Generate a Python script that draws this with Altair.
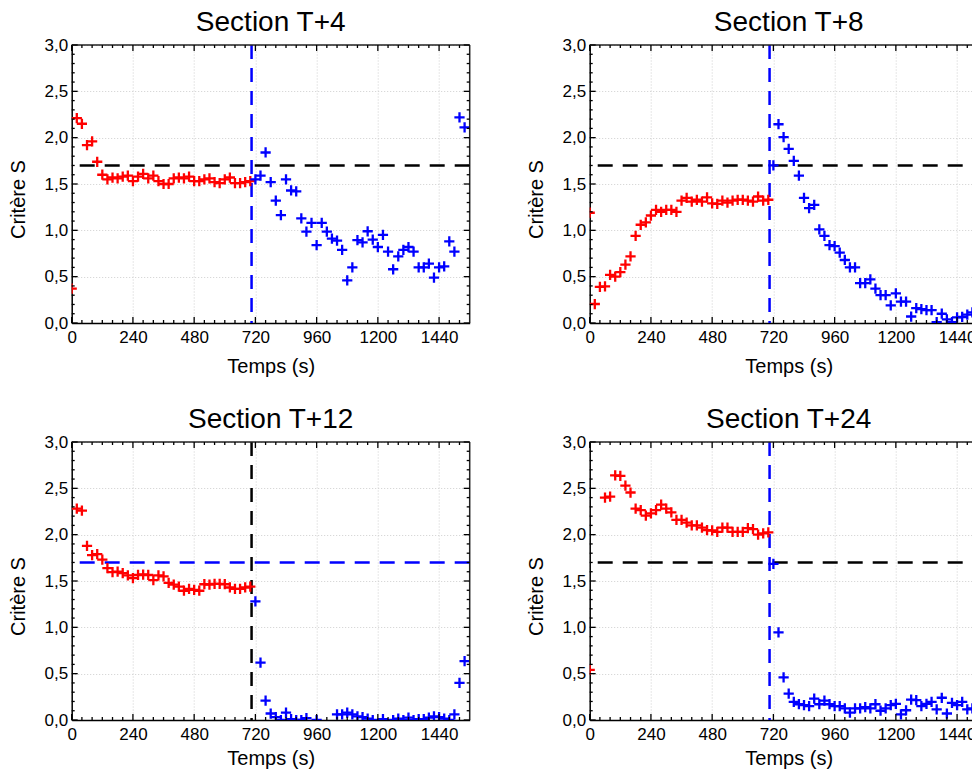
import altair as alt
import pandas as pd

FONT = "Liberation Sans"
W, H = 398, 278          # plot size of every panel
XMAX = 1560
YMAX = 3.0

# ---------------- data ----------------
titles = ["Section T+4", "Section T+8", "Section T+12", "Section T+24"]

times_red = list(range(0, 720, 20))      # 0 .. 700 s
times_blue = list(range(720, 1560, 20))  # 720 .. 1540 s

t4_red = [0.37, 2.21, 2.15, 1.92, 1.96, 1.74, 1.60, 1.55, 1.57, 1.56, 1.58, 1.59,
          1.53, 1.58, 1.61, 1.56, 1.59, 1.53, 1.50, 1.50, 1.56, 1.57, 1.56, 1.58,
          1.53, 1.53, 1.55, 1.56, 1.52, 1.51, 1.55, 1.57, 1.51, 1.51, 1.52, 1.53]
t4_blue = [1.55, 1.59, 1.84, 1.52, 1.32, 1.165, 1.55, 1.43, 1.42, 1.13, 0.985, 1.08,
           0.84, 1.08, 0.985, 0.91, 0.89, 0.79, 0.46, 0.60, 0.895, 0.87, 0.99, 0.90,
           0.82, 0.95, 0.77, 0.58, 0.72, 0.79, 0.82, 0.77, 0.60, 0.60, 0.64, 0.49,
           0.60, 0.61, 0.88, 0.77, 2.22, 2.11]

t8_red = [1.19, 0.205, 0.39, 0.395, 0.52, 0.50, 0.55, 0.63, 0.72, 0.94, 1.06, 1.085,
          1.16, 1.22, 1.20, 1.22, 1.22, 1.20, 1.32, 1.35, 1.31, 1.33, 1.31, 1.355,
          1.29, 1.285, 1.32, 1.30, 1.32, 1.33, 1.33, 1.32, 1.31, 1.365, 1.32, 1.33]
t8_blue = [1.70, 2.145, 2.005, 1.88, 1.75, 1.59, 1.35, 1.24, 1.275, 1.01, 0.94, 0.84,
           0.83, 0.76, 0.68, 0.60, 0.60, 0.43, 0.43, 0.47, 0.37, 0.30, 0.30, 0.19,
           0.32, 0.23, 0.23, 0.07, 0.16, 0.15, 0.14, 0.14, 0.01, 0.10, 0.04, 0.01,
           0.06, 0.065, 0.09, 0.115, 0.18, 0.71]

t12_red = [None, 2.28, 2.26, 1.88, 1.78, 1.79, 1.73, 1.64, 1.595, 1.60, 1.585, 1.56,
           1.53, 1.565, 1.57, 1.565, 1.51, 1.56, 1.55, 1.48, 1.46, 1.44, 1.395, 1.415,
           1.405, 1.395, 1.465, 1.46, 1.47, 1.47, 1.465, 1.43, 1.415, 1.415, 1.43, 1.44]
t12_blue = [1.28, 0.62, 0.21, 0.07, 0.03, 0.0, 0.08, 0.01, 0.0, 0.0, 0.02, -0.06,
            0.0, -0.06, -0.06, -0.06, 0.06, 0.06, 0.08, 0.06, 0.04, 0.03, 0.015, 0.0,
            -0.06, 0.01, -0.06, 0.0, 0.015, 0.0, 0.025, 0.0, 0.01, 0.01, 0.025, 0.04,
            0.03, 0.015, 0.0, 0.06, 0.40, 0.635]

t24_red = [0.54, None, None, 2.40, 2.41, 2.64, 2.635, 2.53, 2.455, 2.28, 2.265, 2.205,
           2.23, 2.265, 2.325, 2.28, 2.24, 2.16, 2.16, 2.13, 2.10, 2.10, 2.075, 2.05,
           2.045, 2.03, 2.075, 2.075, 2.03, 2.03, 2.03, 2.07, 2.06, 2.00, 2.015, 2.025]
t24_blue = [1.685, 0.945, 0.46, 0.285, 0.195, 0.17, 0.16, 0.15, 0.23, 0.17, 0.21, 0.17,
            0.15, 0.15, 0.125, 0.08, 0.125, 0.125, 0.14, 0.125, 0.17, 0.10, 0.125, 0.16,
            0.175, 0.06, 0.105, 0.22, 0.215, 0.15, 0.175, 0.195, 0.115, 0.24, 0.07, 0.185,
            0.16, 0.195, 0.115, 0.125, 0.33, 0.99]

red_series = [t4_red, t8_red, t12_red, t24_red]
blue_series = [t4_blue, t8_blue, t12_blue, t24_blue]

threshold_S = 1.7
switch_time = 705
hline_colors = ["black", "black", "#0000ff", "black"]
vline_colors = ["#0000ff", "#0000ff", "black", "#0000ff"]

x_major = [0, 240, 480, 720, 960, 1200, 1440]
x_minor = [40, 80, 120, 160, 200, 280, 320, 360, 400, 440, 520, 560, 600, 640, 680,
           760, 800, 840, 880, 920, 1000, 1040, 1080, 1120, 1160, 1240, 1280, 1320,
           1360, 1400, 1480, 1520]
y_major = [0.0, 0.5, 1.0, 1.5, 2.0, 2.5, 3.0]
y_minor = [0.1, 0.2, 0.3, 0.4, 0.6, 0.7, 0.8, 0.9, 1.1, 1.2, 1.3, 1.4, 1.6, 1.7, 1.8,
           1.9, 2.1, 2.2, 2.3, 2.4, 2.6, 2.7, 2.8, 2.9]

PLUS = "M-1,0H1M0,-1V1"
FRAME = "#222222"


def panel(i):
    red = red_series[i]
    blue = blue_series[i]
    df = pd.DataFrame({
        "t": times_red + times_blue,
        "v": red + blue,
        "phase": ["avant"] * len(red) + ["après"] * len(blue),
    }).dropna()

    xs = alt.Scale(domain=[0, XMAX], nice=False, zero=False)
    ys = alt.Scale(domain=[0, YMAX], nice=False, zero=False)

    x_axis = alt.Axis(values=x_major, format="d", title="Temps (s)", grid=True,
                      labelFlush=False, labelPadding=6,
                      titlePadding=11 if i < 2 else 6)
    y_axis = alt.Axis(values=y_major, title="Critère S", grid=True, labelFlush=False,
                      labelExpr="replace(format(datum.value, '.1f'), '.', ',')",
                      labelPadding=4, titlePadding=15.5, titleY=H / 2 + 15,
                      titleAlign="center")

    hline = alt.Chart(pd.DataFrame({"v": [threshold_S]})).mark_rule(
        color=hline_colors[i], strokeWidth=2.5, strokeDash=[15, 10]
    ).encode(y=alt.Y("v:Q", scale=ys, axis=y_axis))

    vline = alt.Chart(pd.DataFrame({"t": [switch_time]})).mark_rule(
        color=vline_colors[i], strokeWidth=2.5, strokeDash=[14, 9]
    ).encode(x=alt.X("t:Q", scale=xs, axis=x_axis))

    pts = alt.Chart(df).mark_point(
        shape=PLUS, filled=False, size=105, strokeWidth=2.3, opacity=1, clip=True
    ).encode(
        x=alt.X("t:Q", scale=xs, axis=x_axis),
        y=alt.Y("v:Q", scale=ys, axis=y_axis),
        color=alt.Color("phase:N", scale=alt.Scale(
            domain=["avant", "après"], range=["#ff0000", "#0000ff"]), legend=None),
    )

    layers = [hline, vline, pts]

    # frame: top and right edges
    layers.append(alt.Chart(pd.DataFrame({"t": [0]})).mark_rule(
        color=FRAME, strokeWidth=1.5).encode(
        x=alt.value(0), x2=alt.value(W), y=alt.value(0)))
    layers.append(alt.Chart(pd.DataFrame({"t": [0]})).mark_rule(
        color=FRAME, strokeWidth=1.5).encode(
        x=alt.value(W), y=alt.value(0), y2=alt.value(H)))

    # inward tick marks on every side
    tick_style = dict(color="black", strokeWidth=1.3)
    for vals, ln in ((x_major, 6), (x_minor, 3)):
        d = pd.DataFrame({"t": vals})
        layers.append(alt.Chart(d).mark_rule(**tick_style).encode(
            x=alt.X("t:Q", scale=xs, axis=x_axis), y=alt.value(H), y2=alt.value(H - ln)))
        layers.append(alt.Chart(d).mark_rule(**tick_style).encode(
            x=alt.X("t:Q", scale=xs, axis=x_axis), y=alt.value(0), y2=alt.value(ln)))
    for vals, ln in ((y_major, 6), (y_minor, 3)):
        d = pd.DataFrame({"v": vals})
        layers.append(alt.Chart(d).mark_rule(**tick_style).encode(
            y=alt.Y("v:Q", scale=ys, axis=y_axis), x=alt.value(0), x2=alt.value(ln)))
        layers.append(alt.Chart(d).mark_rule(**tick_style).encode(
            y=alt.Y("v:Q", scale=ys, axis=y_axis), x=alt.value(W), x2=alt.value(W - ln)))

    return alt.layer(*layers).properties(
        width=W, height=H,
        title=alt.TitleParams(titles[i], fontSize=28, font=FONT, fontWeight="normal",
                              anchor="middle", frame="group", baseline="alphabetic",
                              offset=-23, color="black"),
    )


# The right-hand panels run past the edge of the page, as in the reference:
# the drawing gets a fixed size that fits the page and whatever lies beyond is cut.
chart = alt.concat(
    panel(0), panel(1), panel(2), panel(3), columns=2,
    spacing={"row": 119, "column": 120}, bounds="flush"
).properties(
    autosize=alt.AutoSizeParams(type="none"),
    padding={"left": 63.7, "top": 37, "right": 900.3, "bottom": 724},
    background="white",
).configure_view(
    stroke=None
).configure_axis(
    labelFont=FONT, titleFont=FONT, labelFontSize=17, titleFontSize=20,
    titleFontWeight="normal", labelColor="black", titleColor="black",
    domainColor="black", domainWidth=1.5, ticks=False, tickSize=0,
    gridColor="#cfcfcf", gridDash=[1, 2], gridWidth=1,
)

chart.save("out.html", embed_options={"renderer": "svg", "actions": False})
